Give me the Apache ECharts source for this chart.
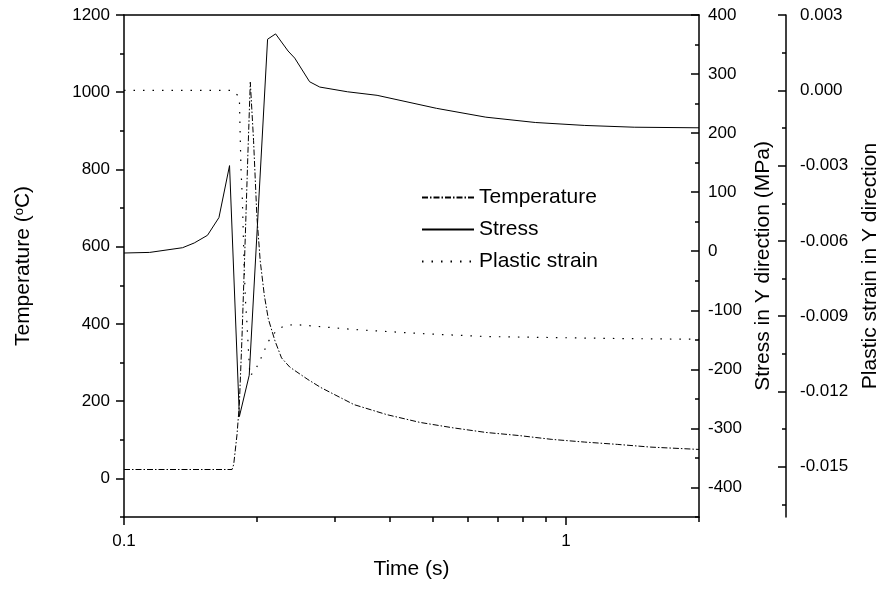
<!DOCTYPE html>
<html>
<head>
<meta charset="utf-8">
<script src="https://cdn.jsdelivr.net/npm/echarts@6/dist/echarts.min.js"></script>
<style>
html, body { margin: 0; padding: 0; background: #fff; }
#main { width: 889px; height: 590px; }
</style>
</head>
<body>
<div id="main"></div>
<script>
// values
var tempTime = [0.1, 0.1756, 0.1771, 0.1802, 0.1824, 0.1849, 0.1881, 0.1907, 0.1931, 0.1964, 0.1998, 0.2033, 0.2078, 0.2121, 0.2196, 0.2272, 0.2373, 0.2607, 0.2791, 0.3315, 0.3935, 0.4672, 0.5549, 0.6587, 0.7822, 0.929, 1.103, 1.309, 1.555, 2.0]
var tempVals = [23, 23, 36, 114, 192, 364, 624, 841, 1026, 875, 680, 564, 473, 413, 356, 312, 288, 256, 235, 191, 165, 145, 131, 119, 111, 101, 94, 88, 81, 75]

var stressTime = [0.1, 0.1143, 0.1357, 0.1442, 0.1545, 0.1640, 0.1733, 0.1824, 0.1920, 0.2113, 0.2203, 0.2351, 0.2434, 0.2630, 0.2773, 0.3203, 0.3738, 0.5093, 0.6587, 0.8524, 1.103, 1.427, 2.0]
var stressVals = [-3, -2, 6, 14, 27, 57, 145, -280, -210, 359, 368, 339, 327, 287, 278, 270, 264, 242, 227, 218, 213, 210, 209]

var strainTime = [0.1, 0.1756, 0.1824, 0.1830, 0.1839, 0.1852, 0.1861, 0.1870, 0.1883, 0.1896, 0.1910, 0.1927, 0.1977, 0.2029, 0.2076, 0.2126, 0.2210, 0.2306, 0.2434, 0.3315, 0.4672, 0.6587, 0.929, 1.309, 2.0]
var strainVals = [0, 0, -0.00026, -0.00146, -0.00306, -0.00426, -0.00559, -0.00705, -0.00838, -0.00918, -0.01018, -0.01138, -0.01118, -0.01078, -0.01038, -0.00998, -0.00958, -0.00938, -0.00933, -0.00953, -0.00969, -0.00981, -0.00985, -0.00989, -0.00992]

// ticks
var timeLabels = [0.1, 1]
var timeMinorTicks = [0.2, 0.3, 0.4, 0.5, 0.6, 0.7, 0.8, 0.9, 2]
var tempLabels = [0, 200, 400, 600, 800, 1000, 1200]
var stressLabels = [-400, -300, -200, -100, 0, 100, 200, 300, 400]
var strainLabels = [-0.015, -0.012, -0.009, -0.006, -0.003, 0, 0.003]
var strainMinorTicks = [-0.0165, -0.0135, -0.0105, -0.0075, -0.0045, -0.0015, 0.0015]

var FONT = '"Liberation Sans", Arial, sans-serif'
var axisLine = { show: true, onZero: false, lineStyle: { color: '#000', width: 1.5 } }
var noLine = { show: false, onZero: false }
var noSplit = { show: false }
var plain = function (v) { return String(v) }

function pairs(xs, ys) {
  return xs.map(function (x, i) { return [x, ys[i]] })
}

var chart = echarts.init(document.getElementById('main'))

var option = {
  animation: false,
  backgroundColor: '#fff',
  grid: { left: 124, right: 183, top: 15, bottom: 73 },
  legend: {
    orient: 'vertical',
    left: 416,
    top: 182,
    itemWidth: 52,
    itemHeight: 12,
    itemGap: 11,
    itemStyle: { opacity: 0 },
    textStyle: { fontFamily: FONT, fontSize: 21, color: '#000' },
    data: ['Temperature', 'Stress', 'Plastic strain']
  },
  xAxis: [
    {
      type: 'log', logBase: 10, min: 0.1, max: 2, position: 'bottom',
      name: 'Time (s)', nameLocation: 'middle', nameGap: 42,
      nameTextStyle: { fontFamily: FONT, fontSize: 21, color: '#000' },
      axisLine: axisLine,
      axisTick: { customValues: timeLabels, length: 8, lineStyle: { color: '#000', width: 1.5 } },
      axisLabel: { customValues: timeLabels, margin: 16, fontFamily: FONT, fontSize: 17, color: '#000', formatter: plain },
      splitLine: noSplit
    },
    {
      // minor log ticks
      type: 'log', logBase: 10, min: 0.1, max: 2, position: 'bottom',
      axisLine: noLine,
      axisTick: { customValues: timeMinorTicks, length: 5, lineStyle: { color: '#000', width: 1.5 } },
      axisLabel: { show: false },
      splitLine: noSplit
    },
    {
      // top frame
      type: 'value', min: 0, max: 1, position: 'top',
      axisLine: axisLine, axisTick: { show: false }, axisLabel: { show: false }, splitLine: noSplit
    }
  ],
  yAxis: [
    {
      type: 'value', min: -100, max: 1200, position: 'left',
      name: 'Temperature ({sup|o}C)', nameLocation: 'middle', nameGap: 90,
      nameTextStyle: {
        fontFamily: FONT, fontSize: 21, color: '#000',
        rich: { sup: { fontFamily: FONT, fontSize: 13, color: '#000', verticalAlign: 'top', padding: [0, 0, 8, 0] } }
      },
      axisLine: axisLine,
      axisTick: { customValues: tempLabels, length: 8, lineStyle: { color: '#000', width: 1.5 } },
      axisLabel: { customValues: tempLabels, margin: 14, fontFamily: FONT, fontSize: 17, color: '#000', formatter: plain },
      splitLine: noSplit
    },
    {
      type: 'value', min: -100, max: 1200, interval: 100, position: 'left',
      axisLine: noLine,
      axisTick: { length: 4, lineStyle: { color: '#000', width: 1.5 } },
      axisLabel: { show: false }, splitLine: noSplit
    },
    {
      type: 'value', min: -450, max: 400, position: 'right',
      name: 'Stress in Y direction (MPa)', nameLocation: 'middle', nameGap: 44,
      nameTextStyle: { fontFamily: FONT, fontSize: 21, color: '#000' },
      axisLine: axisLine,
      axisTick: { customValues: stressLabels, inside: true, length: 8, lineStyle: { color: '#000', width: 1.5 } },
      axisLabel: { customValues: stressLabels, margin: 9, fontFamily: FONT, fontSize: 17, color: '#000', formatter: plain },
      splitLine: noSplit
    },
    {
      type: 'value', min: -450, max: 400, interval: 50, position: 'right',
      axisLine: noLine,
      axisTick: { inside: true, length: 4, lineStyle: { color: '#000', width: 1.5 } },
      axisLabel: { show: false }, splitLine: noSplit
    },
    {
      type: 'value', min: -0.017, max: 0.003, position: 'right', offset: 87,
      name: 'Plastic strain in Y direction', nameLocation: 'middle', nameGap: 74,
      nameTextStyle: { fontFamily: FONT, fontSize: 21, color: '#000' },
      axisLine: axisLine,
      axisTick: { customValues: strainLabels, inside: true, length: 8, lineStyle: { color: '#000', width: 1.5 } },
      axisLabel: {
        customValues: strainLabels, margin: 14, fontFamily: FONT, fontSize: 17, color: '#000',
        formatter: function (v) { return Number(v).toFixed(3) }
      },
      splitLine: noSplit
    },
    {
      type: 'value', min: -0.017, max: 0.003, position: 'right', offset: 87,
      axisLine: noLine,
      axisTick: { customValues: strainMinorTicks, inside: true, length: 4, lineStyle: { color: '#000', width: 1.5 } },
      axisLabel: { show: false }, splitLine: noSplit
    }
  ],
  series: [
    {
      name: 'Temperature', type: 'line', xAxisIndex: 0, yAxisIndex: 0,
      symbol: 'none', smooth: false,
      lineStyle: { color: '#000', width: 1, type: [6, 2, 1.5, 2] },
      itemStyle: { color: '#000' },
      data: pairs(tempTime, tempVals)
    },
    {
      name: 'Stress', type: 'line', xAxisIndex: 0, yAxisIndex: 2,
      symbol: 'none', smooth: false,
      lineStyle: { color: '#000', width: 1, type: 'solid' },
      itemStyle: { color: '#000' },
      data: pairs(stressTime, stressVals)
    },
    {
      name: 'Plastic strain', type: 'line', xAxisIndex: 0, yAxisIndex: 4,
      symbol: 'none', smooth: false,
      lineStyle: { color: '#000', width: 1.2, type: [1.5, 8] },
      itemStyle: { color: '#000' },
      data: pairs(strainTime, strainVals)
    }
  ]
}

chart.setOption(option)
</script>
</body>
</html>
